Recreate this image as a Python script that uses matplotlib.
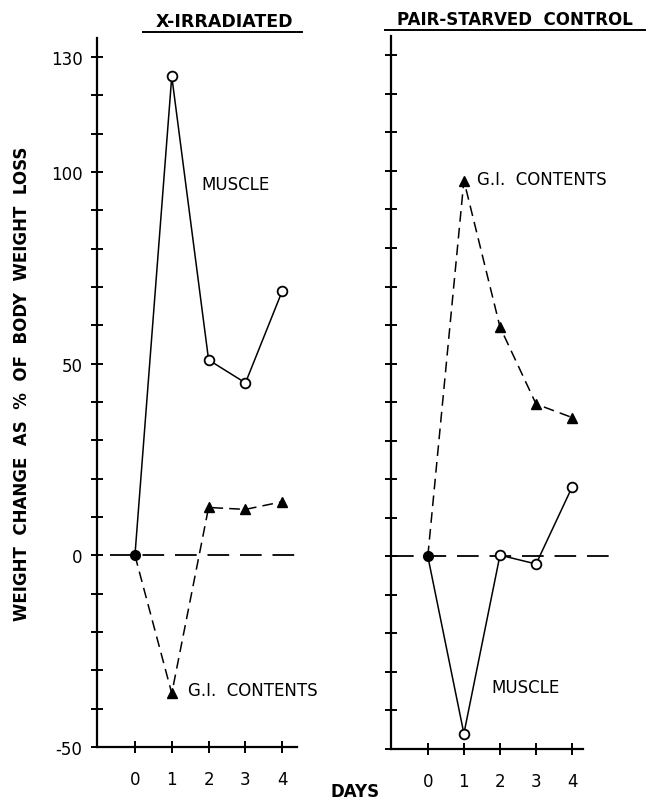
import matplotlib
matplotlib.use("Agg")
import matplotlib.pyplot as plt
from matplotlib.lines import Line2D

# ---- data ----
days = [0, 1, 2, 3, 4]
xirr_muscle = [0, 125, 51, 45, 69]
xirr_gi = [0, -36, 12.5, 12, 14]
ctrl_gi = [0, 97.5, 59.5, 39.5, 36]
ctrl_muscle = [0, -46, 0.3, -2, 18]

ytick_vals = list(range(-50, 131, 10))
ytick_labeled = [130, 100, 50, 0, -50]
xtick_labels = ["0", "1", "2", "3", "4"]

panel_titles = ["X-IRRADIATED", "PAIR-STARVED  CONTROL"]
ylabel = "WEIGHT  CHANGE  AS  %  OF  BODY  WEIGHT  LOSS"
xlabel = "DAYS"

plt.rcParams['font.family'] = ['DejaVu Sans']

W, H = 646, 803
fig = plt.figure(figsize=(W / 100, H / 100), dpi=100)


def fx(px):
    return px / W


def fy(py):
    return 1 - py / H


ax1 = fig.add_axes([fx(97), fy(748), fx(297) - fx(97), fy(39) - fy(748)])
ax2 = fig.add_axes([fx(391), fy(750), fx(583) - fx(391), fy(37) - fy(750)])

for ax in (ax1, ax2):
    ax.set_ylim(-50, 135)
    for s in ("top", "right"):
        ax.spines[s].set_visible(False)
    for s in ("left", "bottom"):
        ax.spines[s].set_linewidth(1.6)
    ax.set_yticks(ytick_vals)
    ax.set_xticks(days)
    ax.set_xticklabels(xtick_labels)
    ax.tick_params(direction="inout", length=9, width=1.4, labelsize=12,
                   pad=8)
    ax.tick_params(axis="x", pad=12)

ax1.set_xlim(-1.03, 4.4)
ax2.set_xlim(-1.02, 4.3)
ax1.set_yticklabels([str(v) if v in ytick_labeled else "" for v in ytick_vals])
ax2.set_yticklabels([])
ax1.tick_params(axis="y", pad=6)


def draw_panel(ax, muscle, gi, zero_x0, zero_x1):
    # zero reference line
    ax.plot([zero_x0, zero_x1], [0, 0], color="black", lw=1.3,
            dashes=(12, 6), clip_on=False, zorder=1)
    # GI contents (dashed with triangles)
    ax.plot(days, gi, color="black", lw=1.1, dashes=(7, 4), zorder=2,
            clip_on=False)
    ax.plot(days[1:], gi[1:], linestyle="none", marker="^", color="black",
            markersize=7, zorder=4, clip_on=False)
    # muscle (solid with open circles)
    ax.plot(days, muscle, color="black", lw=1.1, zorder=3, clip_on=False)
    ax.plot(days[1:], muscle[1:], linestyle="none", marker="o",
            markerfacecolor="white", markeredgecolor="black",
            markeredgewidth=1.3, markersize=7, zorder=5, clip_on=False)
    # origin
    ax.plot([days[0]], [muscle[0]], marker="o", color="black",
            markersize=7, zorder=6, clip_on=False)


draw_panel(ax1, xirr_muscle, xirr_gi, -0.68, 4.4)
draw_panel(ax2, ctrl_muscle, ctrl_gi, -1.0, 5.13)

# curve labels
ax1.text(1.8, 97, "MUSCLE", fontsize=12, ha="left", va="center")
ax1.text(1.45, -35, "G.I.  CONTENTS", fontsize=12, ha="left", va="center")
ax2.text(1.35, 98, "G.I.  CONTENTS", fontsize=12, ha="left", va="center")
ax2.text(1.75, -34, "MUSCLE", fontsize=12, ha="left", va="center")

# panel titles with underline
fig.text(fx(224), fy(22), panel_titles[0], fontsize=12.5, fontweight="bold",
         ha="center", va="center")
fig.add_artist(Line2D([fx(143), fx(302)], [fy(33), fy(33)], color="black",
                      lw=1.4))
fig.text(fx(515), fy(20), panel_titles[1], fontsize=12, fontweight="bold",
         ha="center", va="center")
fig.add_artist(Line2D([fx(385), fx(645)], [fy(31), fy(31)], color="black",
                      lw=1.4))

# axis labels
fig.text(fx(22), fy(384), ylabel, fontsize=12, fontweight="bold",
         rotation=90, ha="center", va="center")
fig.text(fx(355), fy(792), xlabel, fontsize=12, fontweight="bold",
         ha="center", va="center")

fig.savefig("out.png", dpi=100, facecolor="white")
